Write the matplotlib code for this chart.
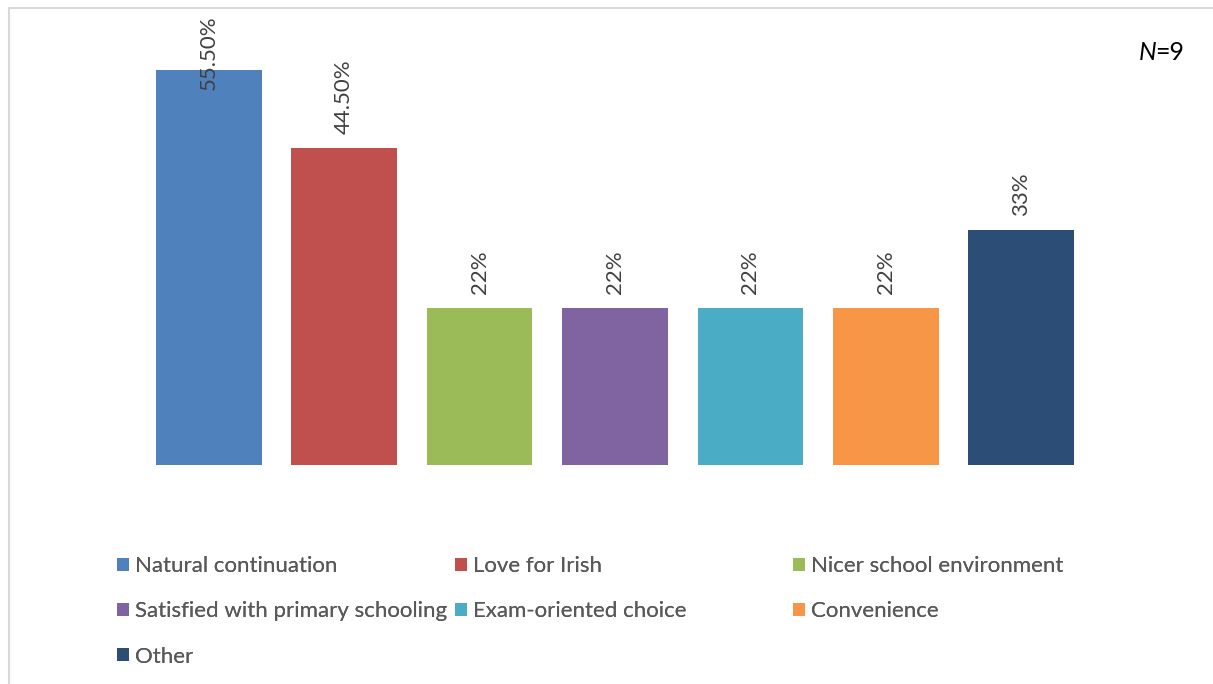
import matplotlib.pyplot as plt
from matplotlib.patches import Patch, Rectangle

categories = ["Natural continuation", "Love for Irish", "Nicer school environment",
              "Satisfied with primary schooling", "Exam-oriented choice", "Convenience", "Other"]
values = [55.5, 44.5, 22, 22, 22, 22, 33]
value_labels = ["55.50%", "44.50%", "22%", "22%", "22%", "22%", "33%"]
colors = ["#4F81BD", "#C0504D", "#9BBB59", "#8064A2", "#4BACC6", "#F79646", "#2C4D75"]

plt.rcParams['font.family'] = ['Lato', 'DejaVu Sans']

W, H = 1213, 684
fig = plt.figure(figsize=(W / 100, H / 100), dpi=100)
ax = fig.add_axes([141 / W, 1 - 465 / H, 948 / W, 427 / H])

x = list(range(len(values)))
bars = ax.bar(x, values, width=0.78, color=colors)
ax.set_xlim(-0.5, 6.5)
ax.set_ylim(0, 60)
ax.axis('off')

# data labels, rotated; the tallest one is pushed down to stay inside the chart
for xi, v, lab in zip(x, values, value_labels):
    if v > 50:
        ax.text(xi, 63.2, lab, rotation=90, ha='center', va='top',
                fontsize=16, color='#404040')
    else:
        ax.text(xi, v + 2.0, lab, rotation=90, ha='center', va='bottom',
                fontsize=16, color='#404040')

n_txt = fig.text(1139 / W, 1 - 60 / H, "N", style='italic', ha='left', va='baseline',
                 fontsize=18, color='black')
ax.annotate("=9", xy=(1, 0), xycoords=n_txt, xytext=(-1.5, 0), textcoords='offset points',
            ha='left', va='bottom', fontsize=18, color='black', annotation_clip=False)

# legend: three columns of equal width like the office chart
handles = [Patch(facecolor=c, edgecolor='none') for c in colors]
columns = [[0, 3, 6], [1, 4], [2, 5]]
col_x = [117, 455, 793]
for cx, idx in zip(col_x, columns):
    leg = fig.legend([handles[i] for i in idx], [categories[i] for i in idx],
                     loc='upper left', bbox_to_anchor=(cx / W, 1 - 556 / H),
                     frameon=False, fontsize=16, handlelength=0.52, handleheight=0.52,
                     handletextpad=0.3, labelspacing=1.14, borderpad=0,
                     borderaxespad=0, labelcolor='#595959')
    fig.add_artist(leg)

fig.add_artist(Rectangle((9 / W, -0.1), 1.2, 1 - 8 / H + 0.1, transform=fig.transFigure,
                         fill=False, edgecolor='#d9d9d9', linewidth=1.5))

fig.savefig("out.png", dpi=100)
